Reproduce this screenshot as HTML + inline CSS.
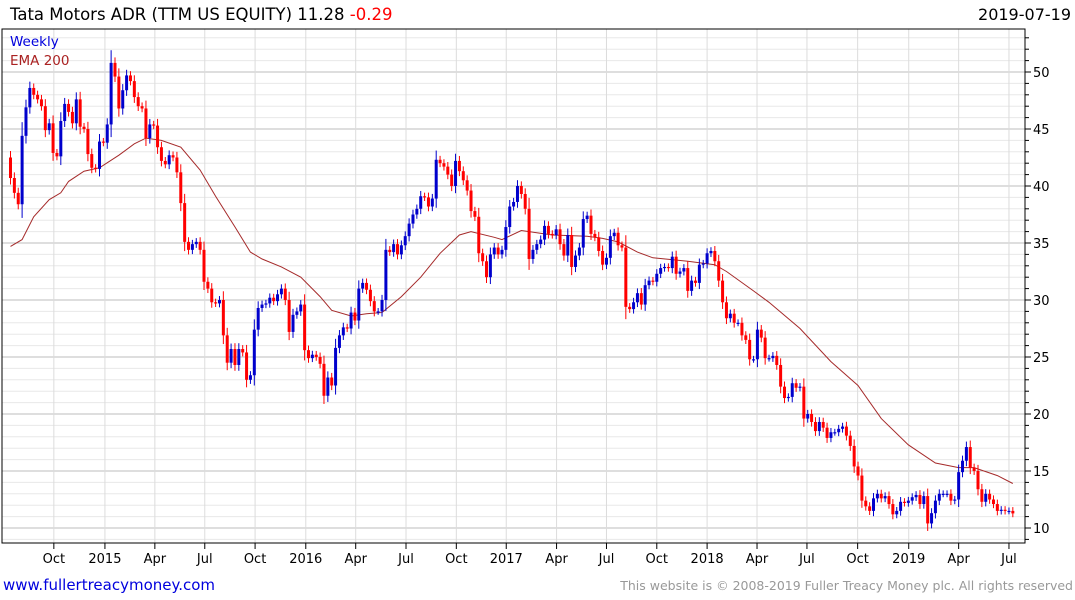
<!DOCTYPE html>
<html><head><meta charset="utf-8"><style>
body{margin:0;background:#fff;width:1075px;height:600px;overflow:hidden;font-family:"DejaVu Sans",sans-serif}
svg{display:block}
</style></head><body>
<svg id="chart" width="1075" height="600" xmlns="http://www.w3.org/2000/svg" font-family="DejaVu Sans, sans-serif">
<text x="10" y="20" font-size="16.5" fill="#000">Tata Motors ADR (TTM US EQUITY) 11.28 <tspan fill="#ff0000">-0.29</tspan></text>
<text x="1071" y="20" font-size="16" fill="#000" text-anchor="end">2019-07-19</text>
<g id="grid"></g>
<g id="ema"></g>
<g id="candles"></g>
<g id="axes"></g>
<text x="10" y="46" font-size="13.5" fill="#0000dd">Weekly</text>
<text x="10" y="65" font-size="13.5" fill="#aa2222">EMA 200</text>
<text x="3" y="590" font-size="15" fill="#0000dd">www.fullertreacymoney.com</text>
<text x="1073" y="590" font-size="12.5" fill="#999" text-anchor="end">This website is © 2008-2019 Fuller Treacy Money plc. All rights reserved</text>
</svg>
<script>
const firstOpen = 42.5;
const closes = [40.7,39.4,38.4,44.4,46.9,48.6,48.0,47.6,47.0,44.9,45.5,42.9,42.6,45.7,47.2,46.5,45.5,47.6,45.2,45.0,
42.8,41.6,41.5,43.9,43.8,45.4,50.8,49.6,46.8,48.4,49.7,49.2,47.8,47.0,46.8,44.2,45.4,45.3,43.4,42.2,
41.9,42.7,42.5,41.2,38.5,35.1,34.4,34.9,35.1,34.4,31.6,31.0,29.8,29.7,30.0,26.9,24.5,25.7,24.3,25.7,
25.4,23.0,23.4,27.4,29.3,29.6,29.7,30.2,29.9,30.5,31.0,30.0,27.2,28.7,29.0,29.6,25.6,24.9,25.2,25.0,
24.4,21.6,23.2,22.5,25.8,26.9,27.6,27.5,28.9,28.2,31.0,31.5,30.9,29.9,29.0,29.0,30.0,34.4,34.2,34.9,
34.0,34.8,35.6,36.7,37.5,38.0,39.1,39.0,38.2,38.9,42.3,42.0,41.7,41.0,40.0,42.2,41.3,40.5,39.6,37.8,
37.3,34.1,33.4,32.0,34.0,34.6,34.0,34.4,36.4,38.2,38.6,40.0,39.3,38.0,33.6,34.4,34.9,35.3,36.5,35.8,
35.7,36.2,34.9,33.9,35.7,32.9,33.9,34.6,37.1,37.4,35.8,35.5,34.3,33.1,33.7,35.6,35.9,34.8,34.6,29.4,
29.2,29.8,30.6,29.6,31.3,31.7,31.6,32.3,32.8,32.9,32.8,33.8,32.3,32.5,32.8,30.8,31.7,31.5,33.1,33.2,
34.1,34.3,33.4,31.7,29.8,28.4,28.8,28.0,28.0,26.9,26.5,24.8,24.8,27.4,26.7,24.9,24.9,25.1,24.3,22.4,
21.4,21.5,22.7,22.3,22.4,19.6,20.0,19.3,18.5,19.3,18.8,17.9,18.4,18.4,18.7,18.9,18.1,17.2,15.4,14.6,
12.4,11.9,11.5,12.6,13.0,12.6,12.8,12.1,11.2,11.5,12.3,12.2,12.4,12.7,12.9,12.1,12.8,10.4,11.3,12.4,
13.0,13.0,13.0,12.4,12.5,14.9,15.9,17.1,15.3,15.0,13.4,12.3,13.0,12.5,12.1,11.5,11.6,11.5,11.5,11.28];
const emaWeeks = [0,3,6,10,13,15,19,23,28,32,35,39,44,49,53,58,62,65,70,75,80,83,88,92,96,101,106,111,116,119,125,127,132,140,149,153,157,162,166,175,182,185,192,196,204,212,219,225,232,239,245,249,255,259];
const emaValues = [34.7,35.3,37.3,38.8,39.4,40.4,41.3,41.6,42.7,43.7,44.2,44.0,43.4,41.4,39.1,36.4,34.2,33.6,32.9,32.0,30.3,29.1,28.6,28.8,28.9,30.3,32.0,34.1,35.7,36.0,35.5,35.3,36.1,35.7,35.6,35.4,35.1,34.2,33.7,33.4,33.1,32.5,30.8,29.8,27.5,24.6,22.5,19.6,17.3,15.7,15.3,15.3,14.6,13.9];
const tickWeeks = [11.2,24.4,37.3,50.2,63.2,76.3,89.2,102.2,115.2,128.1,141.1,154,167,180,192.9,205.8,218.9,232.1,245,258];
const tickLabels = ["Oct","2015","Apr","Jul","Oct","2016","Apr","Jul","Oct","2017","Apr","Jul","Oct","2018","Apr","Jul","Oct","2019","Apr","Jul"];
const yTicks = [10,15,20,25,30,35,40,45,50];

const NS="http://www.w3.org/2000/svg";
const L=2,R=1025,T=29,B=543;
const yS=v=>72+(50-v)*11.4;
const xS=w=>10.5+w*3.87;
function mk(tag,attrs,parent){const e=document.createElementNS(NS,tag);for(const k in attrs)e.setAttribute(k,attrs[k]);parent.appendChild(e);return e;}
const grid=document.getElementById('grid'),axes=document.getElementById('axes'),cg=document.getElementById('candles'),eg=document.getElementById('ema');
for(let v=9;v<=53;v++){const y=yS(v);const major=v%5===0;
 const ln=mk('line',{x1:L,x2:R,y1:y,y2:y,stroke:major?'#bdbdbd':'#e8e8e8','stroke-width':1},grid);
 
 
 const tk=mk('line',{x1:R,x2:R+(major?6:4),y1:y,y2:y,stroke:'#000'},axes);
 
 
}
yTicks.forEach(v=>{const t=mk('text',{x:1033,y:yS(v)+5,'font-size':13,fill:'#000'},axes);t.textContent=v;
 
 });
tickWeeks.forEach((w,i)=>{const x=xS(w);
 const g=mk('line',{x1:x,x2:x,y1:T,y2:B,stroke:'#dcdcdc'},grid);
 
 
 const tk=mk('line',{x1:x,x2:x,y1:B,y2:B+6,stroke:'#000'},axes);
 
 
 const t=mk('text',{x:x,y:563,'font-size':13,fill:'#000','text-anchor':'middle'},axes);t.textContent=tickLabels[i];
 
 
});
const fr=mk('path',{d:`M${L} ${T}H${R}V${B}H${L}Z`,fill:'none',stroke:'#000','stroke-width':1},axes);


closes.forEach((c,i)=>{const o=i===0?firstOpen:closes[i-1];const up=c>=o;const col=up?'#0000cc':'#ff0000';
 const hi=Math.max(o,c)+0.3+Math.abs(c-o)*0.15,lo=Math.min(o,c)-0.3-Math.abs(c-o)*0.15;const x=xS(i);
 const g=mk('g',{},cg);
 
 
 mk('line',{x1:x,x2:x,y1:yS(hi),y2:yS(lo),stroke:col,'stroke-width':1},g);
 const y1=yS(Math.max(o,c)),y2=yS(Math.min(o,c));
 mk('rect',{x:x-1.5,y:y1,width:3,height:Math.max(1.2,y2-y1),fill:col},g);
});
const pts=emaWeeks.map((w,i)=>xS(w).toFixed(1)+','+yS(emaValues[i]).toFixed(1)).join(' ');
const pl=mk('polyline',{points:pts,fill:'none',stroke:'#a52a2a','stroke-width':1},eg);


</script>
</body></html>
